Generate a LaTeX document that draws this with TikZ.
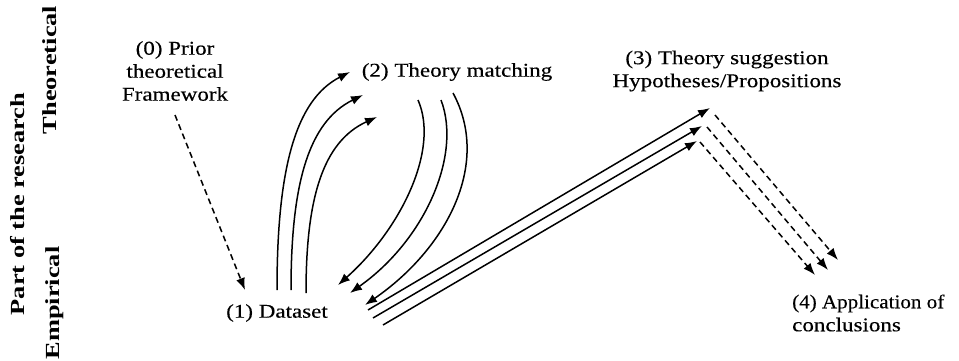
\documentclass[tikz,border=0pt]{standalone}
\usepackage{fontspec}
\setmainfont[FakeStretch=1.18,FakeBold=0.3]{Liberation Serif}
\newfontfamily\labfont[FakeStretch=1.32]{Liberation Serif}
\usetikzlibrary{arrows.meta}
\begin{document}
\begin{tikzpicture}[x=1pt,y=-1pt,
  txt/.style={inner sep=0pt,font=\fontsize{19.5}{23}\selectfont},
  side/.style={inner sep=0pt,rotate=90,font=\labfont\bfseries\fontsize{20}{23}\selectfont},
  arr/.style={line width=1.5pt,-{Latex[length=12pt,width=9pt]}},
  darr/.style={arr,dash pattern=on 6pt off 4pt}]
\useasboundingbox (0,0) rectangle (959,361);
% side labels
\node[side] (lt) at (50,70) {Theoretical};
\node[side] (lp) at (18,204) {Part of the research};
\node[side] (le) at (55,303) {Empirical};
% text nodes
\node[txt,align=center] (t0) at (175,71) {(0) Prior\\theoretical\\Framework};
\node[txt] (t1) at (277,313) {(1) Dataset};
\node[txt] (t2) at (457,72) {(2) Theory matching};
\node[txt,align=center] (t3) at (727,71) {(3) Theory suggestion\\Hypotheses/Propositions};
\node[txt,align=left,anchor=west] (t4) at (792,313) {\addfontfeature{FakeStretch=1.08}(4) Application of\\conclusions};
% connector end points
\coordinate (a0s) at (175,115); \coordinate (a0e) at (245,290);
\coordinate (u1s) at (277,290); \coordinate (u1e) at (350,72);
\coordinate (u2s) at (291,290); \coordinate (u2e) at (363,95);
\coordinate (u3s) at (306,293); \coordinate (u3e) at (377,117);
\coordinate (d1s) at (418,100); \coordinate (d1e) at (338,285);
\coordinate (d2s) at (441,100); \coordinate (d2e) at (350,293);
\coordinate (d3s) at (453,93);  \coordinate (d3e) at (365,305);
\coordinate (s1s) at (368,310); \coordinate (s1e) at (710,108);
\coordinate (s2s) at (373,318); \coordinate (s2e) at (702,126);
\coordinate (s3s) at (383,325); \coordinate (s3e) at (697,141);
\coordinate (c1s) at (715,115); \coordinate (c1e) at (838,260);
\coordinate (c2s) at (707,127); \coordinate (c2e) at (828,270);
\coordinate (c3s) at (700,142); \coordinate (c3e) at (815,275);
% (0) -> (1)
\draw[darr] (a0s) -- (a0e);
% (1) -> (2)
\draw[arr] (u1s) .. controls (277,170) and (295,100) .. (u1e);
\draw[arr] (u2s) .. controls (291,185) and (308,122) .. (u2e);
\draw[arr] (u3s) .. controls (306,200) and (322,142) .. (u3e);
% (2) -> (1)
\draw[arr] (d1s) .. controls (440,150) and (400,230) .. (d1e);
\draw[arr] (d2s) .. controls (462,155) and (425,240) .. (d2e);
\draw[arr] (d3s) .. controls (492,165) and (445,250) .. (d3e);
% (1) -> (3)
\draw[arr] (s1s) -- (s1e);
\draw[arr] (s2s) -- (s2e);
\draw[arr] (s3s) -- (s3e);
% (3) -> (4)
\draw[darr] (c1s) -- (c1e);
\draw[darr] (c2s) -- (c2e);
\draw[darr] (c3s) -- (c3e);
\end{tikzpicture}
\end{document}
